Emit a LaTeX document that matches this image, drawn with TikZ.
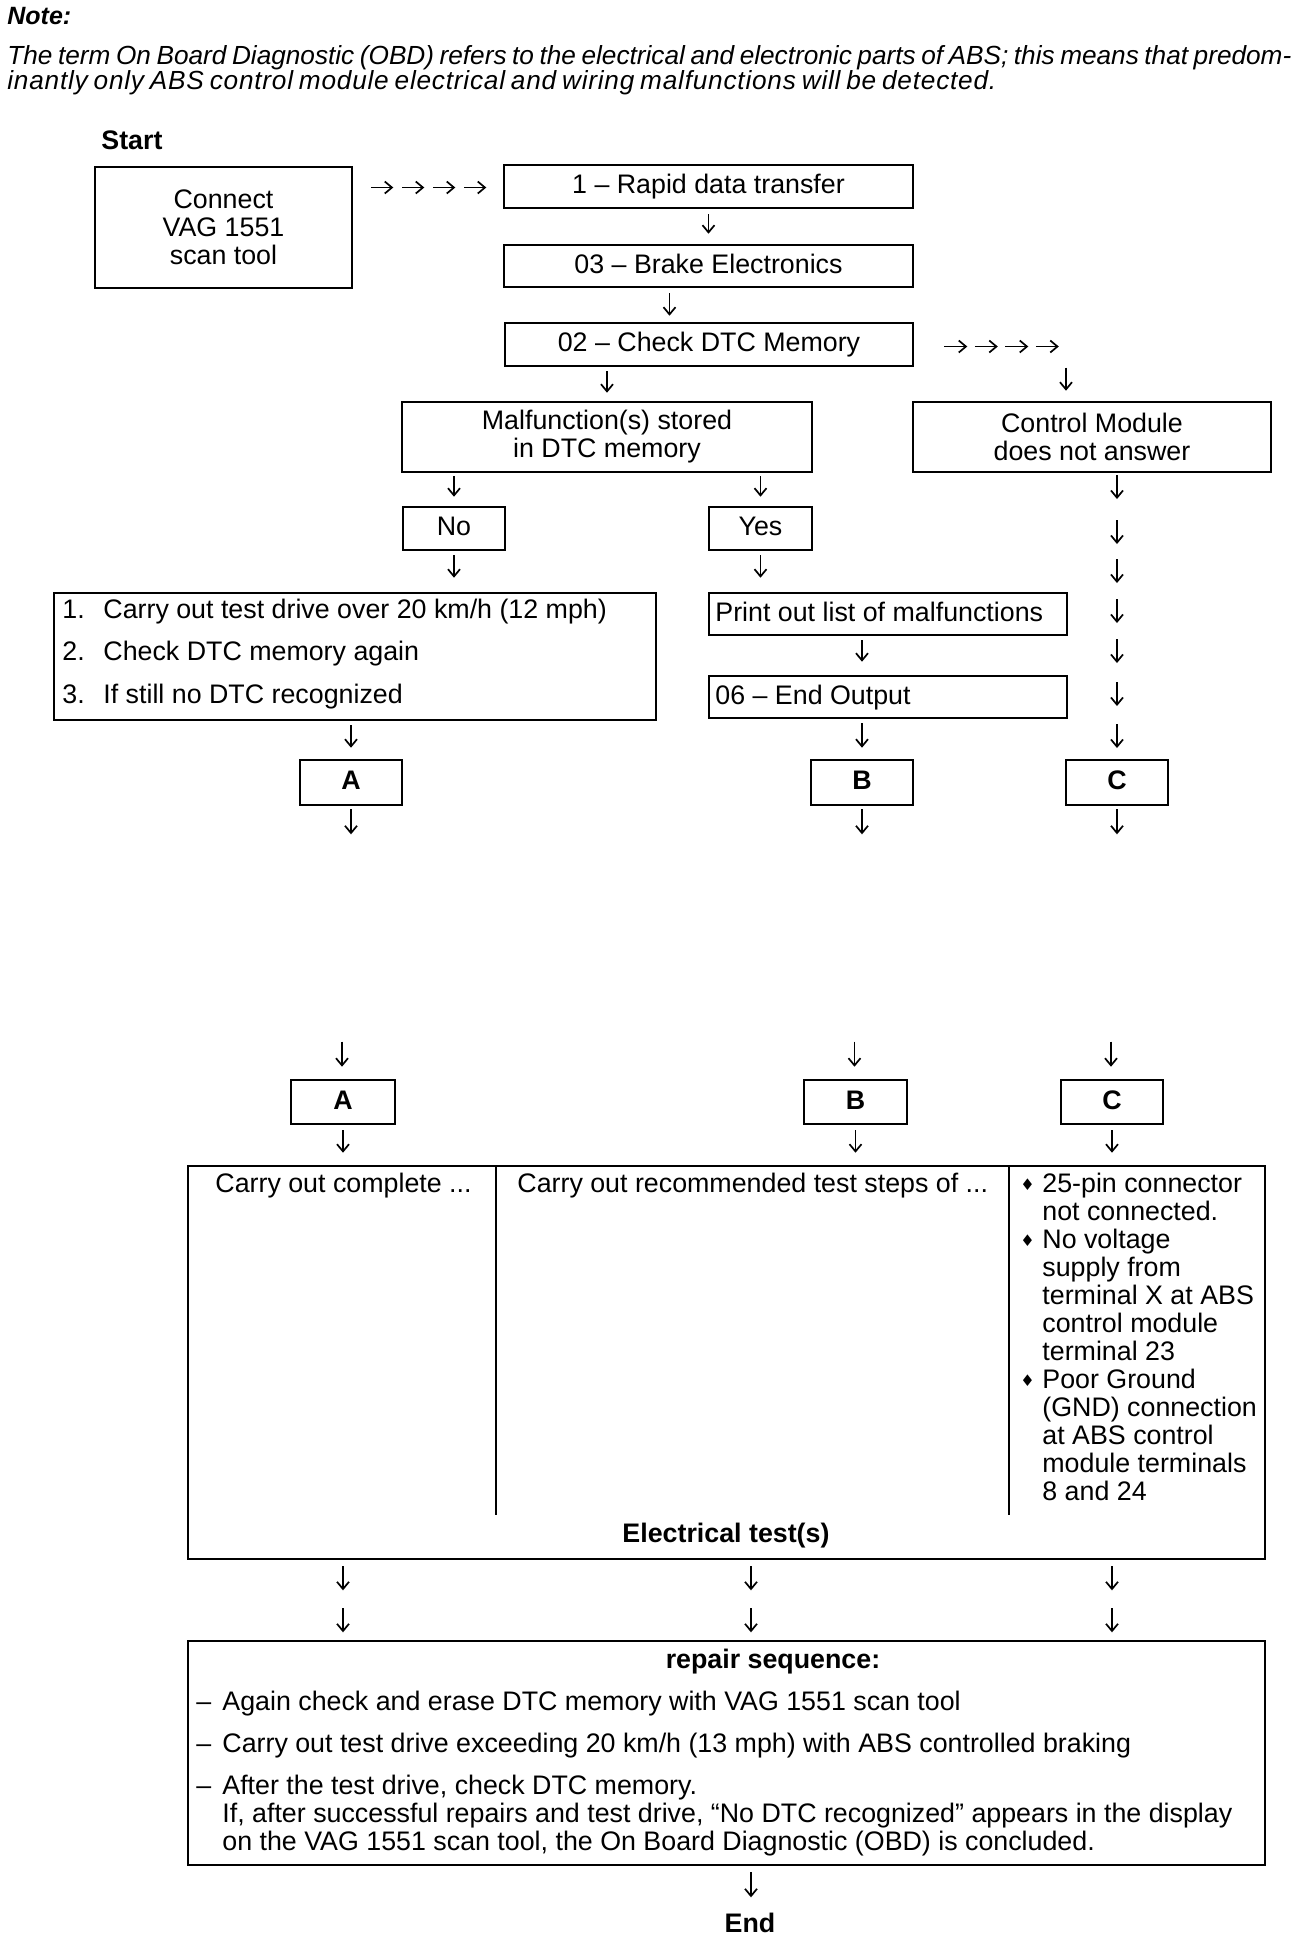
\documentclass[tikz,border=0pt]{standalone}
\usepackage{fontspec}
\setmainfont{Liberation Sans}
\newfontfamily\dejavu{DejaVu Sans}
\newfontfamily\notels[LetterSpace=3]{Liberation Sans}
\usetikzlibrary{arrows.meta,fit,calc}
\newcommand{\fs}{\fontsize{13.4}{14}\selectfont}
\begin{document}
\begin{tikzpicture}[x=0.5pt,y=-0.5pt,
  font=\fs,
  box/.style={draw,line width=1.3pt,inner sep=0pt},
  t/.style={inner sep=0pt,anchor=west,text height=0.72em,text depth=0pt},
  tc/.style={inner sep=0pt,text height=0.72em,text depth=0pt},
  ml/.style={inner sep=0pt,align=center},
  bf/.style={font=\fs\bfseries},
  notef/.style={font=\fontsize{13.1}{14}\selectfont\itshape},
  arr/.style={-{Straight Barb[length=3.6pt,width=6pt]},line width=0.85pt},
  bul/.style={inner sep=0pt,font=\dejavu\fontsize{8}{8}\selectfont}]
\useasboundingbox[fill=white] (0,0) rectangle (1312,1940);

% header note
\node[t,font=\fontsize{12.5}{14}\selectfont\bfseries\itshape] (note) at (7,17) {Note:};
\node[t,notef] (note1) at (7,57) {\makebox[642pt][s]{The term On Board Diagnostic (OBD) refers to the electrical and electronic parts of ABS; this means that predom-}};
\node[t,font=\notels\fontsize{13.1}{14}\selectfont\itshape] (note2) at (7,82) {\makebox[494.5pt][s]{inantly only ABS control module electrical and wiring malfunctions will be detected.}};

\node[t,bf] (start) at (101,142) {Start};

% upper boxes
\node[box,fit={(95,167)(352,288)}] (connect) {};
\node[ml] (connectt) at (connect.center) {Connect\\VAG 1551\\scan tool};
\node[box,fit={(504,165)(913,208)}] (rapid) {};
\node[tc] (rapidt) at (rapid.center) {1 – Rapid data transfer};
\node[box,fit={(504,245)(913,287)}] (brake) {};
\node[tc] (braket) at (brake.center) {03 – Brake Electronics};
\node[box,fit={(505,323)(913,366)}] (dtc) {};
\node[tc] (dtct) at (dtc.center) {02 – Check DTC Memory};
\node[box,fit={(402,402)(812,472)}] (malf) {};
\node[ml] (malft) at (malf.center) {Malfunction(s) stored\\in DTC memory};
\node[box,fit={(913,402)(1271,472)}] (ctrl) {};
\node[ml] (ctrlt) at (ctrl.center) {Control Module\\does not answer};
\node[box,fit={(403,507)(505,550)}] (no) {};
\node[tc] (not) at (no.center) {No};
\node[box,fit={(709,507)(812,550)}] (yes) {};
\node[tc] (yest) at (yes.center) {Yes};
\node[box,fit={(54,593)(656,720)}] (steps) {};
\node[box,fit={(709,593)(1067,635)}] (print) {};
\node[box,fit={(709,676)(1067,718)}] (endout) {};
\node[box,fit={(300,760)(402,805)}] (A1) {};
\node[tc,bf] (A1t) at (A1.center) {A};
\node[box,fit={(811,760)(913,805)}] (B1) {};
\node[tc,bf] (B1t) at (B1.center) {B};
\node[box,fit={(1066,760)(1168,805)}] (C1) {};
\node[tc,bf] (C1t) at (C1.center) {C};

\node[t] (s1n) at (62,611) {1.};
\node[t] (s1) at (103,611) {Carry out test drive over 20 km/h (12 mph)};
\node[t] (s2n) at (62,653) {2.};
\node[t] (s2) at (103,653) {Check DTC memory again};
\node[t] (s3n) at (62,696) {3.};
\node[t] (s3) at (103,696) {If still no DTC recognized};
\node[t] (printt) at (715,614) {Print out list of malfunctions};
\node[t] (endoutt) at (715,697) {06 – End Output};

% lower boxes
\node[box,fit={(291,1080)(395,1124)}] (A2) {};
\node[tc,bf] (A2t) at (A2.center) {A};
\node[box,fit={(804,1080)(907,1124)}] (B2) {};
\node[tc,bf] (B2t) at (B2.center) {B};
\node[box,fit={(1061,1080)(1163,1124)}] (C2) {};
\node[tc,bf] (C2t) at (C2.center) {C};

\node[box,fit={(188,1166)(1265,1559)}] (tests) {};
\draw[line width=1.1pt] (496,1166) -- (496,1515);
\draw[line width=1.1pt] (1009,1166) -- (1009,1515);
\node[t] (colA) at (215,1185) {Carry out complete ...};
\node[t] (colB) at (517,1185) {Carry out recommended test steps of ...};
\foreach \y [count=\j] in {1185,1241,1381} \node[bul,anchor=west] (bu\j) at (1020,\y) {♦};
\foreach \txt [count=\i] in {25-pin connector,not connected.,No voltage,supply from,terminal X at ABS,control module,terminal 23,Poor Ground,(GND) connection,at ABS control,module terminals,8 and 24}
  \node[t] (cl\i) at (1042,{1185+28*(\i-1)}) {\txt};
\node[tc,bf] (etest) at (726,1535) {Electrical test(s)};

\node[box,fit={(188,1641)(1265,1865)}] (repair) {};
\node[tc,bf] (rhead) at (773,1661) {repair sequence:};
\node[t] (r1d) at (196,1703) {–};
\node[t] (r1) at (222,1703) {Again check and erase DTC memory with VAG 1551 scan tool};
\node[t] (r2d) at (196,1745) {–};
\node[t] (r2) at (222,1745) {Carry out test drive exceeding 20 km/h (13 mph) with ABS controlled braking};
\node[t] (r3d) at (196,1787) {–};
\node[t] (r3) at (222,1787) {After the test drive, check DTC memory.};
\node[t] (r4) at (222,1815) {If, after successful repairs and test drive, “No DTC recognized” appears in the display};
\node[t] (r5) at (222,1843) {on the VAG 1551 scan tool, the On Board Diagnostic (OBD) is concluded.};
\node[tc,bf] (endn) at (750,1925) {End};

% connectors
\foreach \i in {0,...,3}
  \draw[arr] ($(connect.east |- rapid.west)+(18+\i*31,1)$) -- ++(22,0);
\draw[arr,shorten <=2.5pt,shorten >=5pt] (rapid.south) -- (rapid.south |- brake.north);
\draw[arr,shorten <=2.5pt,shorten >=3pt] ([xshift=-19.5pt]brake.south) -- ([xshift=-19.5pt]brake.south |- dtc.north);
\draw[arr,shorten <=2pt,shorten >=4pt] (dtc.south -| malf.north) -- (malf.north);
\foreach \i in {0,...,3}
  \draw[arr] ($(dtc.east)+(30+\i*30.5,2)$) -- ++(23,0);
\draw[arr] ($(ctrl.north)+(-26,-33)$) -- ++(0,23);
\draw[arr,shorten <=1.5pt,shorten >=4.5pt] (malf.south -| no.north) -- (no.north);
\draw[arr,shorten <=1.5pt,shorten >=4.5pt] (malf.south -| yes.north) -- (yes.north);
\draw[arr,shorten <=2pt,shorten >=7pt] (no.south) -- (no.south |- steps.north);
\draw[arr,shorten <=2pt,shorten >=7pt] (yes.south) -- (yes.south |- print.north);
\draw[arr,shorten <=2pt,shorten >=6.5pt] (print.south -| B1.north) -- (endout.north -| B1.north);
\draw[arr,shorten <=2pt,shorten >=5.5pt] (steps.south -| A1.north) -- (A1.north);
\draw[arr,shorten <=2pt,shorten >=5.5pt] (endout.south -| B1.north) -- (B1.north);
\foreach \ya in {475,520,559,599,639,682,724}
  \draw[arr] (C1.north |- 0,\ya) -- ++(0,24);
\foreach \n in {A1,B1,C1}
  \draw[arr] ($(\n.south)+(0,3)$) -- ++(0,25);
\foreach \n in {A2,B2,C2}
  \draw[arr] ($(\n.north)+(-1,-37)$) -- ++(0,25);
\foreach \n in {A2,B2,C2}
  \draw[arr,shorten <=2.5pt,shorten >=6pt] (\n.south) -- (\n.south |- tests.north);
\coordinate (midB) at (751,1559);
\foreach \n in {A2,midB,C2}{
  \draw[arr] ($(tests.south -| \n)+(0,6)$) -- ++(0,24);
  \draw[arr] ($(tests.south -| \n)+(0,48)$) -- ++(0,24);
}
\draw[arr] ($(repair.south -| midB)+(0,6)$) -- ++(0,25);
\end{tikzpicture}
\end{document}
